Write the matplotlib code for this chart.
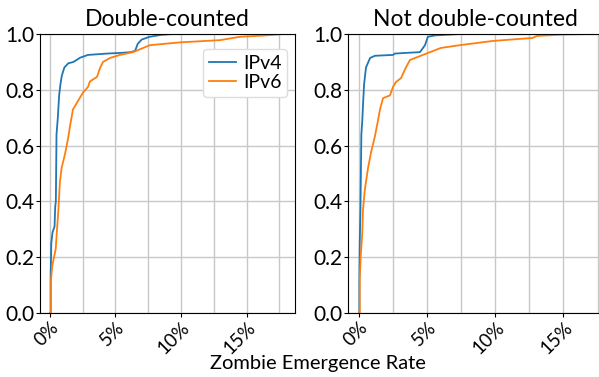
import matplotlib
matplotlib.use('Agg')
import matplotlib.pyplot as plt
from matplotlib.ticker import MultipleLocator, PercentFormatter

plt.rcParams['font.family'] = ['Lato', 'DejaVu Sans']

# CDF breakpoints (x in %, y = cumulative fraction)
dc_v4_x = [0.0, 0.05, 0.05, 0.1, 0.2, 0.35, 0.4, 0.45, 0.5, 0.6, 0.7, 0.8, 0.9, 1.1, 1.4, 1.8,
           2.3, 2.9, 3.5, 4.4, 5.3, 6.2, 6.5, 6.7, 7.0, 7.6, 8.5, 9.4]
dc_v4_y = [0.0, 0.0, 0.12, 0.25, 0.29, 0.31, 0.38, 0.40, 0.64, 0.70, 0.78, 0.82, 0.85, 0.88,
           0.895, 0.90, 0.915, 0.925, 0.927, 0.93, 0.932, 0.935, 0.94, 0.965, 0.98, 0.99,
           0.997, 1.0]

dc_v6_x = [0.0, 0.08, 0.08, 0.18, 0.31, 0.44, 0.51, 0.63, 0.76, 0.89, 1.15, 1.4, 1.53, 1.76,
           2.14, 2.52, 2.9, 3.05, 3.59, 3.82, 4.05, 4.58, 5.34, 6.34, 7.63, 9.92, 12.98, 14.5,
           16.5, 17.8]
dc_v6_y = [0.0, 0.0, 0.12, 0.17, 0.20, 0.23, 0.28, 0.36, 0.47, 0.52, 0.57, 0.63, 0.67, 0.73,
           0.76, 0.79, 0.81, 0.83, 0.846, 0.878, 0.90, 0.914, 0.925, 0.935, 0.96, 0.97, 0.978,
           0.99, 0.995, 1.0]

ndc_v4_x = [0.0, 0.02, 0.02, 0.05, 0.1, 0.17, 0.24, 0.29, 0.37, 0.51, 0.81, 1.17, 2.49, 2.64,
            4.47, 4.84, 5.05, 5.57, 7.4]
ndc_v4_y = [0.0, 0.0, 0.11, 0.25, 0.36, 0.64, 0.69, 0.745, 0.82, 0.88, 0.914, 0.922, 0.925,
            0.93, 0.935, 0.96, 0.99, 0.995, 1.0]

ndc_v6_x = [0.0, 0.05, 0.05, 0.12, 0.24, 0.29, 0.42, 0.66, 0.9, 1.15, 1.39, 1.54, 1.76, 2.27,
            2.49, 2.71, 3.08, 3.44, 3.74, 4.32, 5.05, 6.0, 7.4, 9.8, 12.75, 13.04, 14.95, 17.07]
ndc_v6_y = [0.0, 0.0, 0.12, 0.2, 0.29, 0.37, 0.44, 0.52, 0.58, 0.63, 0.69, 0.73, 0.77, 0.78,
            0.81, 0.828, 0.842, 0.88, 0.907, 0.918, 0.932, 0.95, 0.96, 0.975, 0.986, 0.993,
            0.998, 1.0]

titles = ['Double-counted', 'Not double-counted']
xticks = [0, 5, 10, 15]

fig = plt.figure(figsize=(5.99, 3.77), dpi=100)
ax1 = fig.add_axes([40/599, 1-313/377, 255/599, 279/377])
ax2 = fig.add_axes([348/599, 1-313/377, 255/599, 279/377])

panels = [
    (ax1, dc_v4_x, dc_v4_y, dc_v6_x, dc_v6_y, (-0.76, 18.7)),
    (ax2, ndc_v4_x, ndc_v4_y, ndc_v6_x, ndc_v6_y, (-0.81, 17.9)),
]

for i, (ax, x4, y4, x6, y6, xl) in enumerate(panels):
    ax.plot(x4, y4, color='#1f77b4', lw=1.3, label='IPv4')
    ax.plot(x6, y6, color='#ff7f0e', lw=1.3, label='IPv6')
    ax.set_xlim(*xl)
    ax.set_ylim(0, 1)
    ax.set_xticks(xticks)
    ax.xaxis.set_minor_locator(MultipleLocator(2.5))
    ax.xaxis.set_major_formatter(PercentFormatter(100, decimals=0))
    ax.set_yticks([0, 0.2, 0.4, 0.6, 0.8, 1.0])
    ax.grid(True, which='both', color='#c8c8c8', lw=1)
    ax.set_axisbelow(True)
    ax.tick_params(axis='y', which='major', labelsize=15, length=3, pad=1)
    ax.tick_params(axis='x', which='major', labelsize=13.5, length=3, pad=1)
    ax.tick_params(axis='both', which='minor', length=0)
    for lbl in ax.get_xticklabels():
        lbl.set_rotation(45)
        lbl.set_ha('right')
        lbl.set_rotation_mode('anchor')
    ax.set_title(titles[i], fontsize=16.5, pad=6)

ax1.legend(loc='upper right', bbox_to_anchor=(0.985, 0.96), fontsize=14, handlelength=1.4,
           handletextpad=0.35, borderpad=0.3, labelspacing=0.1, borderaxespad=0.2,
           framealpha=1, edgecolor='#dddddd')

fig.text(318/599, 1-363/377, 'Zombie Emergence Rate', ha='center', va='center', fontsize=14.5)

fig.savefig('out.png', dpi=100)
